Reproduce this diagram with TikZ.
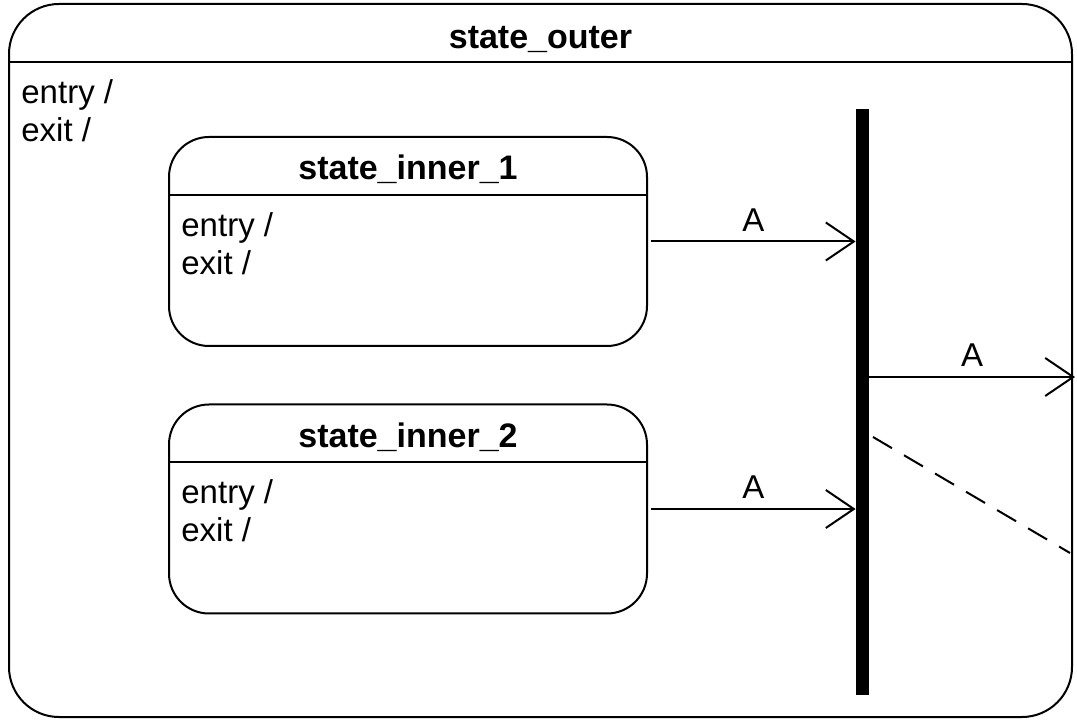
\documentclass[tikz,border=0pt]{standalone}
\usepackage{fontspec}
\setmainfont{Liberation Sans}
\usetikzlibrary{arrows.meta}
\tikzset{
  statebox/.style={draw, line width=1pt, rounded corners=20pt, minimum width=239pt, minimum height=104.5pt, inner sep=0pt},
  statename/.style={font=\fontsize{17}{19}\selectfont\bfseries, anchor=base, inner sep=0pt},
  actions/.style={font=\fontsize{16.5}{19}\selectfont, align=left, anchor=north west, inner sep=0pt},
  trans/.style={line width=1pt, -{Straight Barb[length=14pt, width=19pt]}},
  evt/.style={font=\fontsize{16.5}{19}\selectfont, inner sep=0pt, above=4.5pt}
}
\begin{document}
\begin{tikzpicture}[x=0.5pt, y=-0.5pt]
\useasboundingbox (0,0) rectangle (1077,721);
% draw the outer state
\node[statebox, rounded corners=25pt, minimum width=531.5pt, minimum height=356.5pt] (outer) at (540.5,360.5) {};
\draw[line width=1pt] ([yshift=-29.5pt]outer.north west) -- ([yshift=-29.5pt]outer.north east);
\node[statename] (outername) at ([yshift=-23pt]outer.north) {state\_outer};
\node[actions] (outeract) at ([xshift=6.5pt, yshift=-38pt]outer.north west) {entry /\\exit /};

% draw the fork bar
\node[fill, minimum width=6.5pt, minimum height=293pt, inner sep=0pt] (bar) at (862.5,402) {};

% draw inner states and their transitions
\foreach \i/\yc in {1/241.5, 2/509} {
  \node[statebox] (inner\i) at (408,\yc) {};
  \draw[line width=1pt] ([yshift=-29.5pt]inner\i.north west) -- ([yshift=-29.5pt]inner\i.north east);
  \node[statename] (name\i) at ([yshift=-22pt]inner\i.north) {state\_inner\_\i};
  \node[actions] (act\i) at ([xshift=6.5pt, yshift=-38pt]inner\i.north west) {entry /\\exit /};
  \draw[trans] ([xshift=1.5pt]inner\i.east) -- node[evt] (evt\i) {A} (inner\i.east -| bar.west);
}

% draw outgoing transition
\coordinate (exitpt) at (1075,377);
\draw[trans] (bar.east |- exitpt) -- node[evt] (evt3) {A} (exitpt);

% draw dashed line
\coordinate (dashstart) at (873,437);
\coordinate (dashend) at (1070,553);
\draw[line width=1pt, dash pattern=on 11pt off 7pt] (dashstart) -- (dashend);
\end{tikzpicture}
\end{document}
